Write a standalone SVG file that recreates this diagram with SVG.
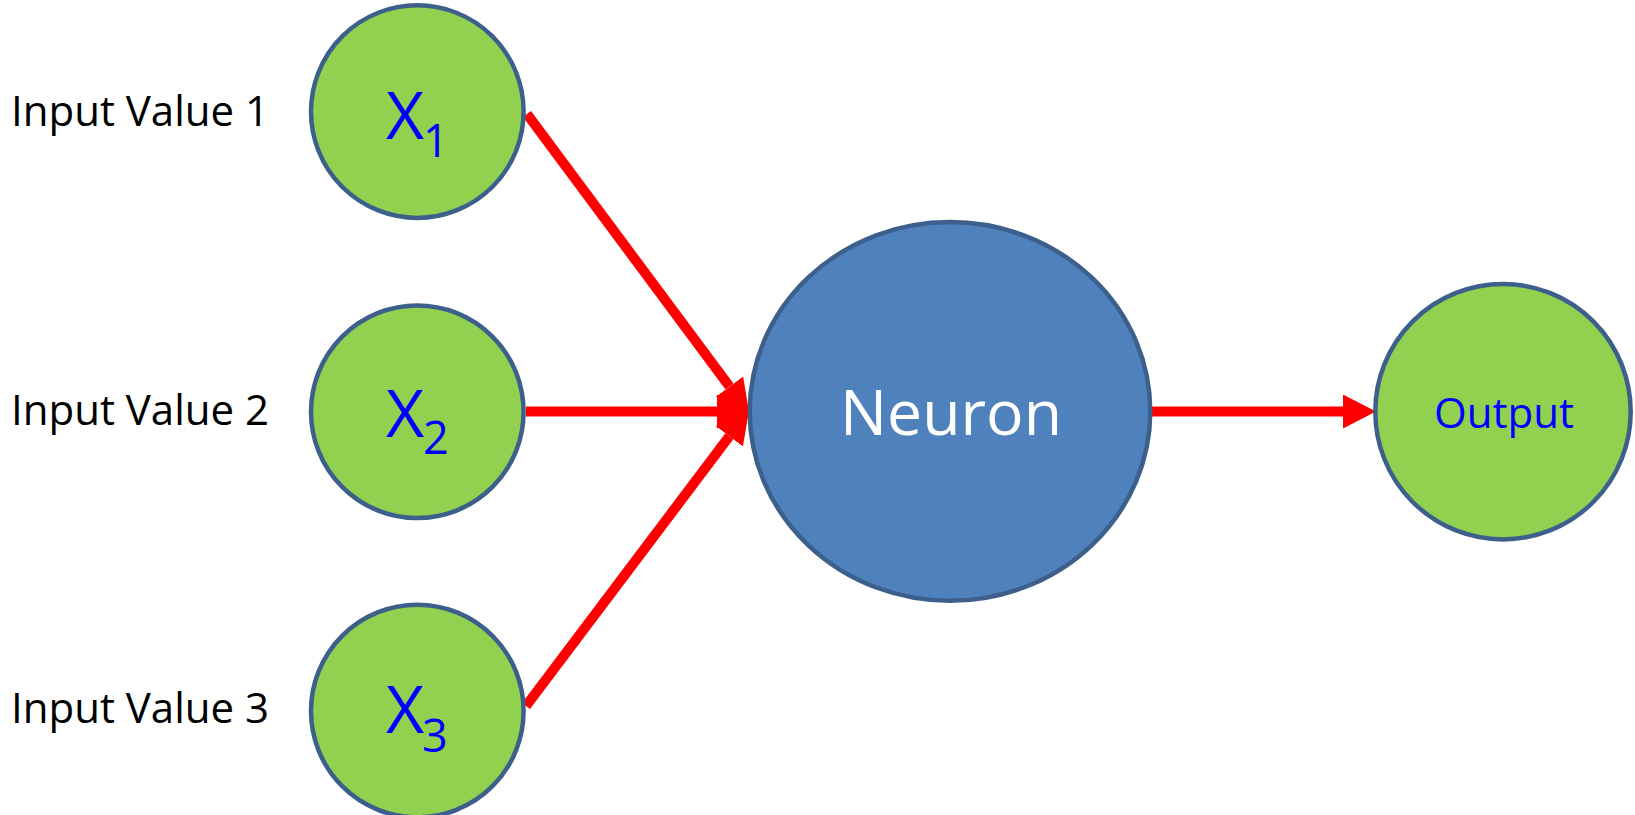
<svg xmlns="http://www.w3.org/2000/svg" width="1635" height="815" viewBox="0 0 1635 815">
  <style>
    .input { fill: #92D050; stroke: #3C5F8C; stroke-width: 4.5; }
    .neuron { fill: #4F81BD; stroke: #3C5F8C; stroke-width: 4.5; }
    .label { font-family: "Open Sans", "Noto Sans", sans-serif; font-size: 42px; fill: #000000; }
    .var { font-family: "Open Sans", "Noto Sans", sans-serif; font-size: 66px; fill: #0000FF; }
    .sub { font-family: "Open Sans", "Noto Sans", sans-serif; font-size: 45px; fill: #0000FF; }
    .link { stroke: #FF0000; stroke-width: 10; fill: none; stroke-linecap: butt; }
  </style>
  <defs>
    <marker id="arrow" markerUnits="userSpaceOnUse" markerWidth="34" markerHeight="34" refX="0" refY="16" orient="auto" viewBox="0 0 32 32">
      <path d="M0,0 L31,16 L0,32 Z" fill="#FF0000"/>
    </marker>
  </defs>

  <rect width="1635" height="815" fill="#FFFFFF"/>

  <!-- labels of the inputs -->
  <g id="labels">
    <text class="label" x="140" y="125.5" text-anchor="middle" textLength="258" lengthAdjust="spacingAndGlyphs">Input Value 1</text>
    <text class="label" x="140" y="425" text-anchor="middle" textLength="258" lengthAdjust="spacingAndGlyphs">Input Value 2</text>
    <text class="label" x="140" y="723.3" text-anchor="middle" textLength="258" lengthAdjust="spacingAndGlyphs">Input Value 3</text>
  </g>

  <!-- connectors -->
  <g id="connectors">
    <line class="link" x1="527" y1="114" x2="729.5" y2="386.6" marker-end="url(#arrow)"/>
    <line class="link" x1="526" y1="411.5" x2="717" y2="411.5" marker-end="url(#arrow)"/>
    <line class="link" x1="526" y1="706" x2="729.3" y2="436.3" marker-end="url(#arrow)"/>
    <line class="link" x1="1152" y1="411.5" x2="1343" y2="411.5" marker-end="url(#arrow)"/>
  </g>

  <g id="x1">
    <circle class="input" cx="417.3" cy="111.6" r="106.3"/>
    <text class="var" x="386" y="139.3">X</text>
    <text class="sub" x="423" y="157.3">1</text>
  </g>

  <g id="x2">
    <circle class="input" cx="417.3" cy="411.7" r="106.3"/>
    <text class="var" x="386" y="436.7">X</text>
    <text class="sub" x="423" y="454">2</text>
  </g>

  <g id="x3">
    <circle class="input" cx="417.3" cy="711" r="106.3"/>
    <text class="var" x="386" y="733.3">X</text>
    <text class="sub" x="422" y="751.7">3</text>
  </g>

  <g id="neuron">
    <ellipse class="neuron" cx="950" cy="411.4" rx="200.3" ry="189.4"/>
    <text x="951" y="435" text-anchor="middle" textLength="222" lengthAdjust="spacingAndGlyphs" font-family="Open Sans, Noto Sans, sans-serif" font-size="63" fill="#FFFFFF">Neuron</text>
  </g>

  <g id="output">
    <circle class="input" cx="1503" cy="411.7" r="127.7"/>
    <text x="1504" y="427.7" text-anchor="middle" textLength="140" lengthAdjust="spacingAndGlyphs" font-family="Open Sans, Noto Sans, sans-serif" font-size="42.6" fill="#0000FF">Output</text>
  </g>
</svg>
